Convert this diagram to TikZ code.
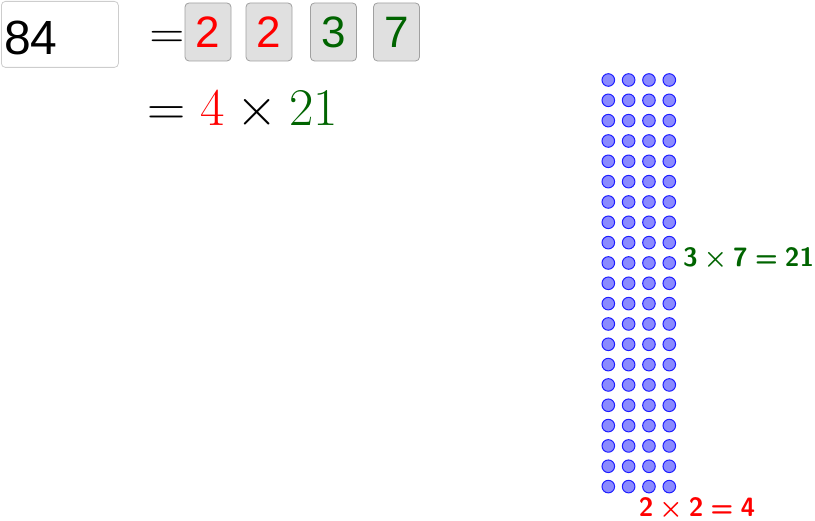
\RequirePackage{fix-cm}
\documentclass[tikz,border=0pt]{standalone}
\usepackage{fontspec}
\newfontfamily\btnfont{Liberation Sans}
\definecolor{facred}{RGB}{255,0,0}
\definecolor{facgreen}{RGB}{0,100,0}
\definecolor{beadfill}{RGB}{138,138,255}
\definecolor{beadline}{RGB}{30,30,255}
\definecolor{btnfill}{RGB}{224,224,224}
\definecolor{btnline}{RGB}{160,160,160}
\definecolor{boxline}{RGB}{205,205,205}
\newcommand{\opgap}{\hspace{0.2em}}
\newcommand{\relgap}{\hspace{0.25em}}

\begin{document}
\begin{tikzpicture}[x=1pt, y=-1pt,
	facbtn/.style={draw=btnline, fill=btnfill, rounded corners=4pt, line width=0.8pt,
		minimum width=46pt, minimum height=58pt, inner sep=0pt,
		font=\btnfont\fontsize{44}{44}\selectfont},
	bead/.style={circle, draw=beadline, fill=beadfill, line width=1pt,
		minimum size=12.6pt, inner sep=0pt},
	bigmath/.style={inner sep=0pt, font=\fontsize{53}{53}\selectfont},
	prodlabel/.style={inner sep=0pt,
		font=\fontsize{26.5}{26.5}\usefont{OT1}{cmss}{bx}{n}\boldmath}]
		%%%%% START %%%%%
		\useasboundingbox (0, 0) rectangle (815, 521);
		
		% input box
		\node[draw=boxline, line width=0.8pt, rounded corners=4pt, minimum width=117pt,
			minimum height=66pt, anchor=north west] (numbox) at (1, 1) {};
		\node[inner sep=0pt, anchor=base west, font=\btnfont\fontsize{48}{48}\selectfont]
			(numtext) at (4, 55) {84};
		
		% factor buttons
		\node[bigmath, anchor=base, font=\fontsize{48}{48}\selectfont] (eqone) at (167, 49) {$=$};
		\node[facbtn, text=facred] (btna) at (208, 32) {2};
		\node[facbtn, text=facred] (btnb) at (269, 32) {2};
		\node[facbtn, text=facgreen] (btnc) at (333.5, 32) {3};
		\node[facbtn, text=facgreen] (btnd) at (396.5, 32) {7};
		
		\node[bigmath, anchor=base west] (eqtwo) at (147, 126)
			{$=\textcolor{facred}{4}\times\textcolor{facgreen}{21}$};
		
		% array of beads, 4 columns x 21 rows
		\foreach \i in {0,...,3}
			\foreach \j in {0,...,20}
				\node[bead] (b-\i-\j) at (608.3+20.33*\i, 80+20.33*\j) {};
		
		\node[prodlabel, text=facgreen, anchor=west] (rowlabel) at (683, 259)
			{3\opgap$\times$\opgap7\relgap=\relgap21};
		\node[prodlabel, text=facred] (collabel) at (697, 509)
			{2\opgap$\times$\opgap2\relgap=\relgap4};
		%%%%% END %%%%%
\end{tikzpicture}
\end{document}
